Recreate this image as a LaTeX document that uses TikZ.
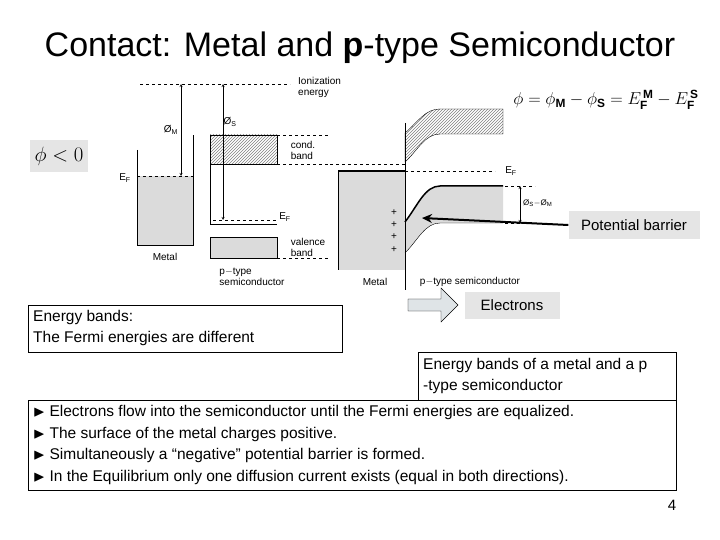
\documentclass[tikz,border=0pt]{standalone}
\usepackage{fontspec}
\setmainfont{Liberation Sans}
\usepackage{amsmath,amssymb}
\usetikzlibrary{patterns,shapes.arrows,arrows.meta}
\tikzset{
  txt/.style={inner sep=0pt,anchor=west},
  small/.style={font=\fontsize{10}{11}\selectfont,inner sep=0pt},
  grayfill/.style={fill=gray!28},
  hatch/.style={pattern=north east lines,pattern color=gray},
  dashline/.style={dashed,thin},
}
\begin{document}
\begin{tikzpicture}[x=1pt,y=-1pt]
	\useasboundingbox (0,0) rectangle (720,540);
	
	\node (title) at (360,48) {\fontsize{34}{38}\selectfont Contact: Metal and \textbf{p}-type Semiconductor};
	
	% left band diagram
	\draw[dashline] (140,84) -- (290,84);
	\node[small,anchor=north west,align=left] (ion) at (298,77) {Ionization\\energy};
	\draw[grayfill,draw=none] (137,176) rectangle (193,245);
	\draw (137,150) -- (137,245) -- (193,245) -- (193,135);
	\draw[dashline] (137,176) -- (193,176);
	\node[small] (ef1) at (125,178) {E$_\mathrm{F}$};
	\coordinate (ma) at (181,84);
	\coordinate (mb) at (181,176);
	\draw[<->,>=stealth] (ma) -- (mb);
	\node[small] (phim) at (171,130) {Ø$_\mathrm{M}$};
	\node[small] (metal1) at (165,257) {Metal};
	
	\draw[hatch] (210,135) rectangle (277,164);
	\draw (210,135) -- (210,224) -- (277,224);
	\draw[dashline] (277,135) -- (330,135);
	\draw[dashline] (277,164) -- (330,164);
	\draw[dashline] (213,220) -- (278,220);
	\node[small] (ef2) at (285,217) {E$_\mathrm{F}$};
	\draw[grayfill] (210,237) rectangle (277,258);
	\draw[dashline] (277,258) -- (330,258);
	\coordinate (sa) at (223,84);
	\coordinate (sb) at (223,220);
	\draw[<->,>=stealth] (sa) -- (sb);
	\node[small] (phis) at (230,122) {Ø$_\mathrm{S}$};
	\node[small,align=left] (cb) at (303,150) {cond.\\band};
	\node[small,align=left] (vb) at (308,247) {valence\\band};
	\node[small,align=left] (ptype1) at (252,277) {p$-$type\\semiconductor};
	
	% right band diagram
	\draw[grayfill,draw=none] (338,171) rectangle (405,270);
	\draw[line width=1.5pt] (338,171) -- (405,171);
	\draw (338,171) -- (338,270);
	\draw[hatch] (405,133) .. controls (418,122) and (425,109) .. (440,109) -- (503,109) -- (503,134) -- (440,134) .. controls (425,134) and (418,150) .. (405,162) -- cycle;
	\draw[dashline] (330,164) -- (405,164);
	\draw[grayfill,draw=none] (405,222) .. controls (418,205) and (425,186) .. (440,186) -- (503,186) -- (503,223) -- (440,223) .. controls (425,223) and (418,240) .. (405,253) -- cycle;
	\draw[line width=1.5pt] (405,222) .. controls (418,205) and (425,186) .. (440,186) -- (503,186);
	\draw (405,253) .. controls (418,240) and (425,223) .. (440,223) -- (503,223);
	\draw[line width=1pt] (405,123) -- (405,290);
	\draw[dashline] (405,171) -- (495,171);
	\node[small] (ef3) at (511,171) {E$_\mathrm{F}$};
	\draw[dashline] (505,186) -- (535,186);
	\draw[dashline] (505,223) -- (535,223);
	\coordinate (da) at (520,186);
	\coordinate (db) at (520,223);
	\draw[<->,>=stealth] (da) -- (db);
	\node[small,anchor=west,font=\fontsize{8}{9}\selectfont] (dphi) at (523,203) {Ø$_\mathrm{S}$$-$Ø$_\mathrm{M}$};
	\foreach \y in {213,225,237,250}
		\node[small] at (394,\y) {+};
	\node[small] (metal2) at (375,282) {Metal};
	\node[small] (ptype2) at (470,282) {p$-$type semiconductor};
	
	% formula and labels
	\node[font=\fontsize{17}{19}\selectfont] (phi) at (606,100) {$\phi=\phi_{\mathbf{M}}-\phi_{\mathbf{S}}=E^{\,\mathbf{M}}_{\mathbf{F}}-E^{\,\mathbf{S}}_{\mathbf{F}}$};
	\node[fill=gray!20,minimum width=58,minimum height=32] (neg) at (59,156) {\fontsize{20}{22}\selectfont $\phi<0$};
	\node[fill=gray!20,minimum width=131,minimum height=27] (barrier) at (634,225) {\fontsize{15}{17}\selectfont Potential barrier};
	\draw[line width=2pt,-{Stealth[length=10pt,width=9pt]}] (barrier.west) -- (422,218);
	
	\node[single arrow,draw,fill=cyan!15!gray!25,minimum height=50,minimum width=34,single arrow head extend=4pt,inner sep=2pt] (flow) at (430,305) {};
	\node[fill=gray!20,minimum width=95,minimum height=27] (el) at (512,305) {\fontsize{15}{17}\selectfont Electrons};
	
	\draw[thin] (28,305) rectangle (342,352);
	\node[txt,align=left,font=\fontsize{15.5}{21}\selectfont] (eb) at (33,328) {Energy bands:\\The Fermi energies are different};
	
	\draw[thin] (418,352) rectangle (676,400);
	\node[txt,align=left,font=\fontsize{15.5}{21}\selectfont] (ebm) at (423,376) {Energy bands of a metal and a p\\-type semiconductor};
	
	\draw[thin] (28,400) rectangle (676,490);
	\node[txt,align=left,font=\fontsize{15.5}{21.5}\selectfont] (list) at (33,445) {%
		$\blacktriangleright$\ Electrons flow into the semiconductor until the Fermi energies are equalized.\\
		$\blacktriangleright$\ The surface of the metal charges positive.\\
		$\blacktriangleright$\ Simultaneously a ``negative'' potential barrier is formed.\\
		$\blacktriangleright$\ In the Equilibrium only one diffusion current exists (equal in both directions).};
	\node (page) at (672,505) {\fontsize{15}{17}\selectfont 4};
\end{tikzpicture}
\end{document}
